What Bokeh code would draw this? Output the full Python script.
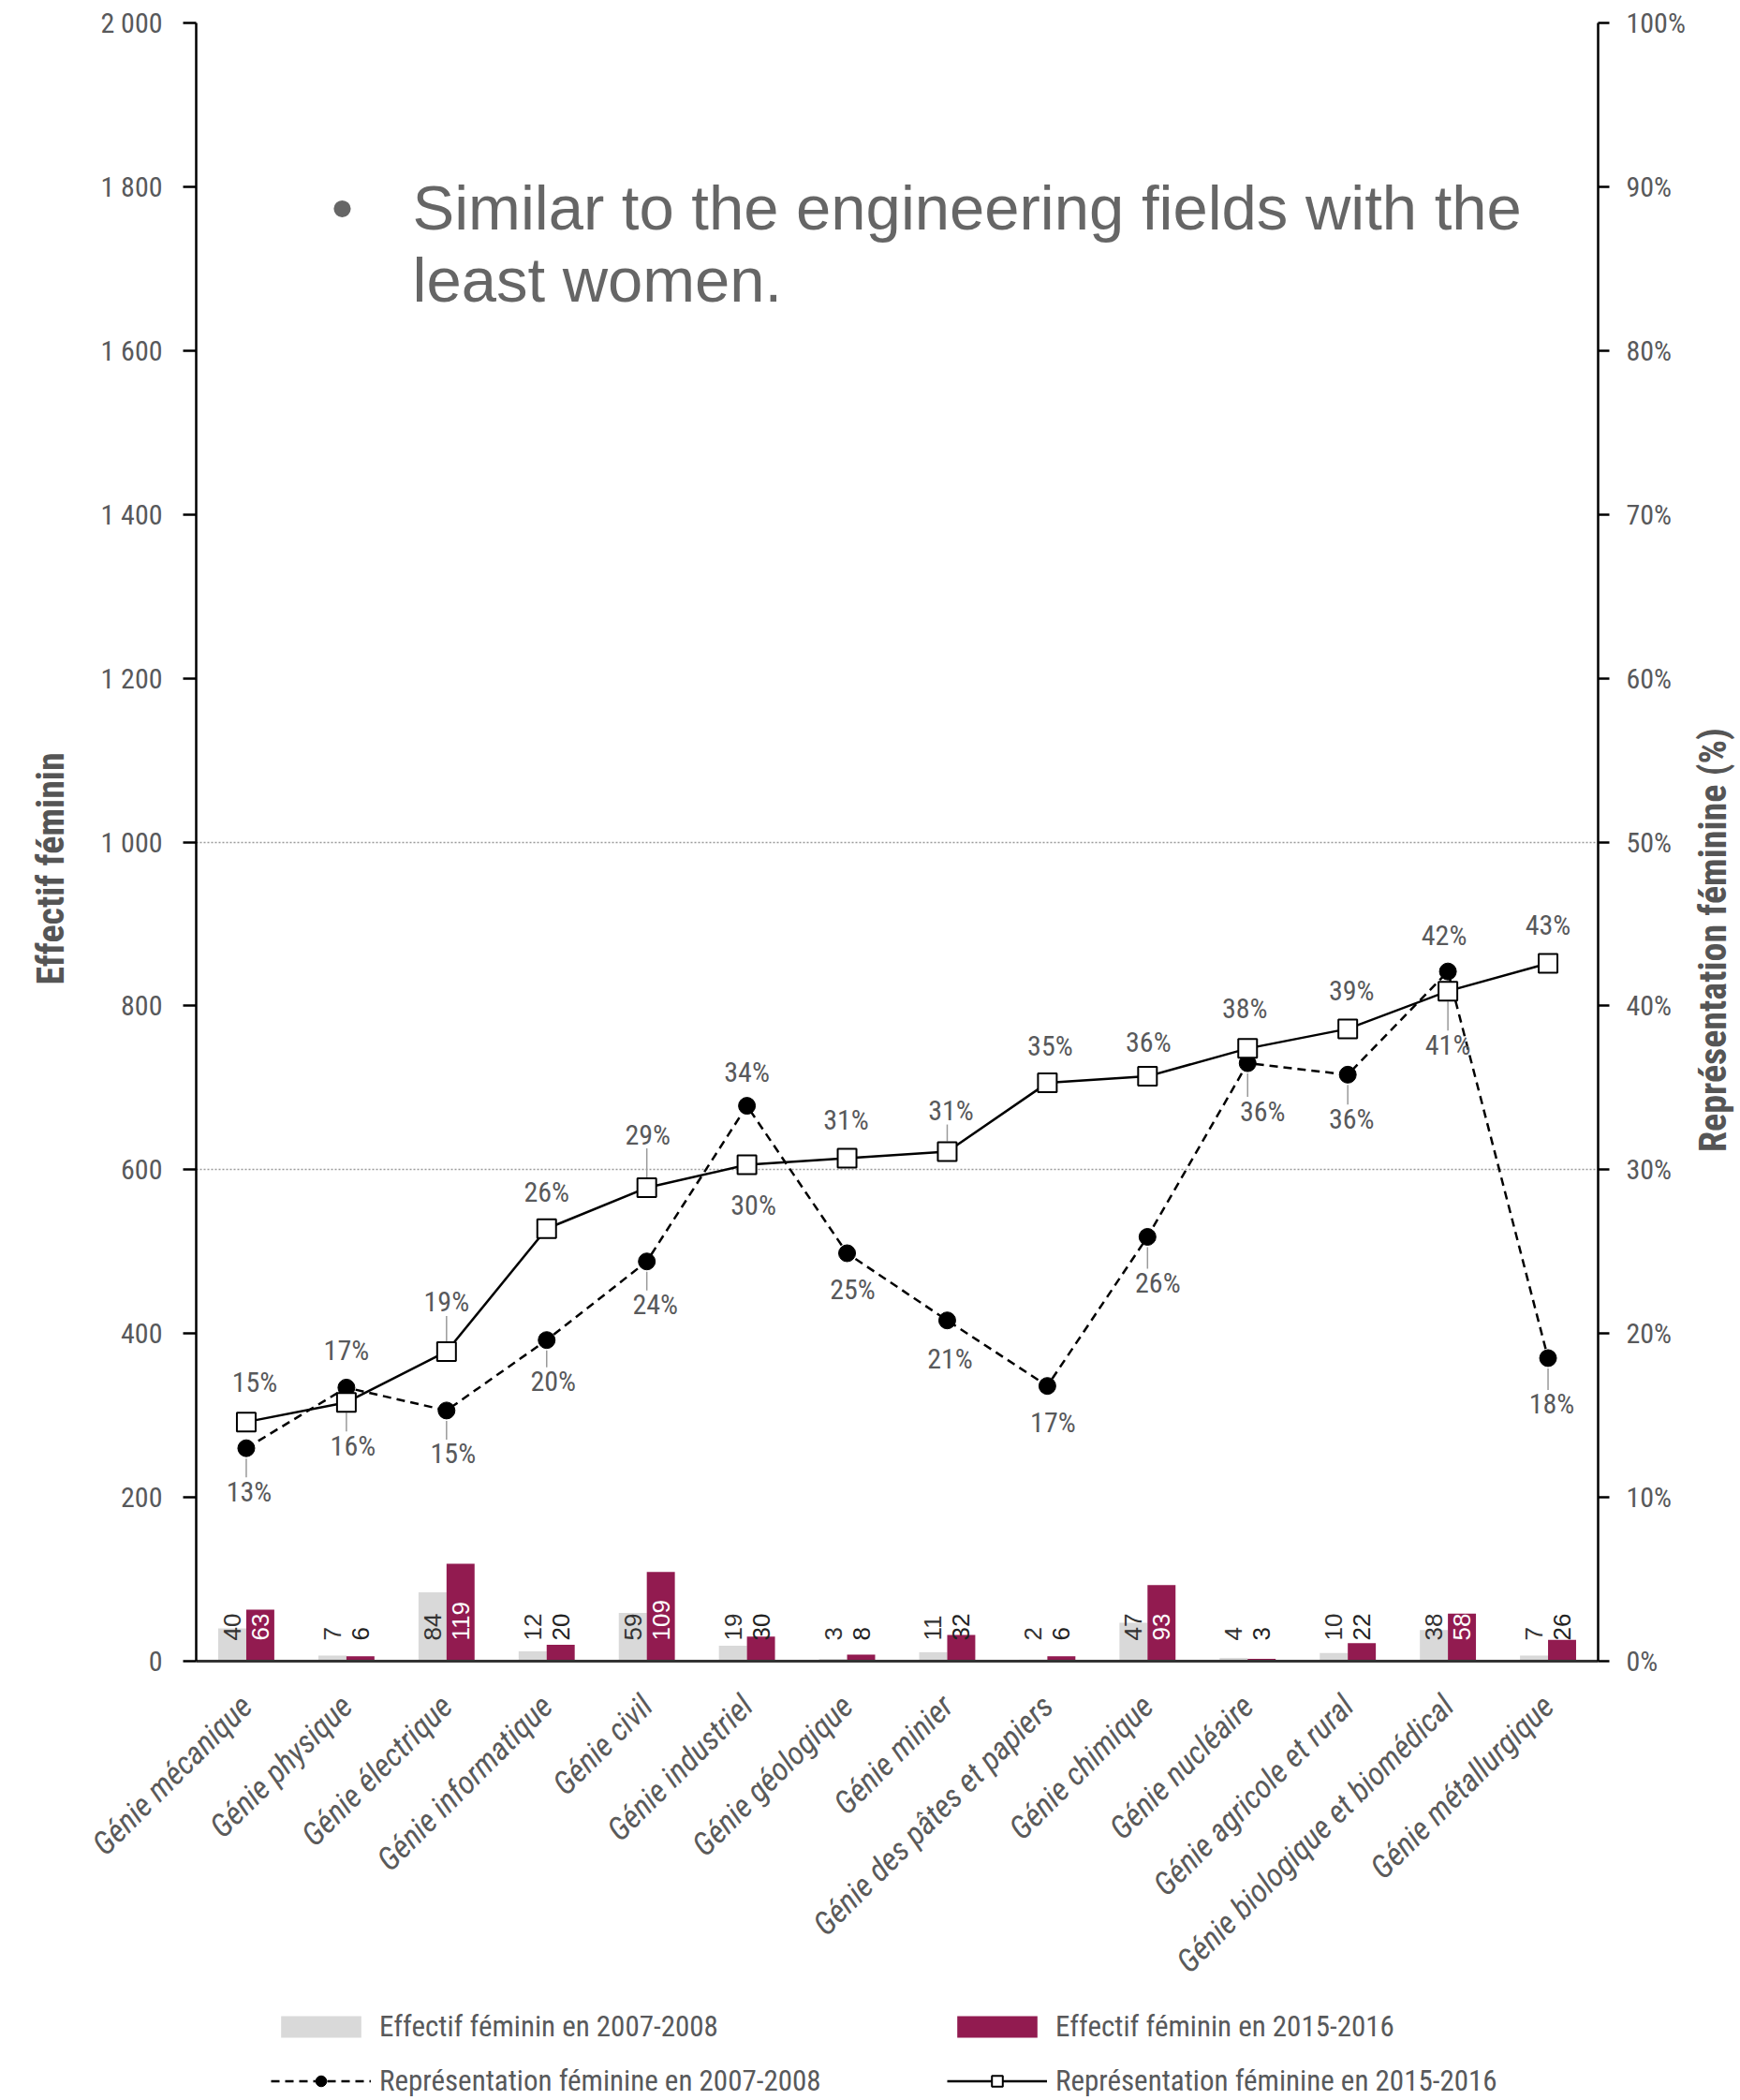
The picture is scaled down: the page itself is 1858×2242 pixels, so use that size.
import math
from bokeh.plotting import figure
from bokeh.layouts import column, row
from bokeh.models import (FactorRange, Range1d, LinearAxis, FixedTicker, CustomJSTickFormatter,
                          ColumnDataSource, Legend, LegendItem, Label)
from bokeh.transform import dodge
from bokeh.core.properties import value
from bokeh.embed import file_html
from bokeh.resources import INLINE

# ---------------- data ----------------
categories = ["Génie mécanique", "Génie physique", "Génie électrique", "Génie informatique",
              "Génie civil", "Génie industriel", "Génie géologique", "Génie minier",
              "Génie des pâtes et papiers", "Génie chimique", "Génie nucléaire",
              "Génie agricole et rural", "Génie biologique et biomédical", "Génie métallurgique"]
eff_2007 = [40, 7, 84, 12, 59, 19, 3, 11, 2, 47, 4, 10, 38, 7]
eff_2015 = [63, 6, 119, 20, 109, 30, 8, 32, 6, 93, 3, 22, 58, 26]
rep_2007 = [13.0, 16.7, 15.3, 19.6, 24.4, 33.9, 24.9, 20.8, 16.8, 25.9, 36.5, 35.8, 42.1, 18.5]
rep_2015 = [14.6, 15.8, 18.9, 26.4, 28.9, 30.3, 30.7, 31.1, 35.3, 35.7, 37.4, 38.6, 40.9, 42.6]
rep_2007_labels = ["13%", "17%", "15%", "20%", "24%", "34%", "25%", "21%", "17%", "26%", "36%", "36%", "42%", "18%"]
rep_2015_labels = ["15%", "16%", "19%", "26%", "29%", "30%", "31%", "31%", "35%", "36%", "38%", "39%", "41%", "43%"]
left_ticks = list(range(0, 2001, 200))
right_ticks = list(range(0, 101, 10))
grid_values = [600, 1000]
bullet_lines = ["Similar to the engineering fields with the", "least women."]
left_title = "Effectif féminin"
right_title = "Représentation féminine (%)"
legend_labels = ["Effectif féminin en 2007-2008", "Représentation féminine en 2007-2008",
                 "Effectif féminin en 2015-2016", "Représentation féminine en 2015-2016"]

# ---------------- styles ----------------
COND = "'Roboto Condensed', 'DejaVu Sans Condensed', Roboto, sans-serif"
SANS = "'Liberation Sans', Arial, sans-serif"
TXT = "#58595b"
GRAY = "#d9d9d9"
PURPLE = "#921b50"

# label offsets (screen px) relative to the markers, and which labels get a leader line
dx07 = [3, 0, 7, 7, 9, 0, 6, 3, 6, 11, 16, 4, -4, 4]
dy07 = [46, -40, 46, 44, 46, -36, 39, 41, 39, 49, 51, 47, -39, 49]
dx15 = [9, 7, 0, 0, 1, 7, -1, 4, 3, 1, -3, 4, 0, 0]
dy15 = [-43, 46, -53, -39, -57, 43, -41, -44, -40, -37, -43, -41, 57, -41]
lead07 = [1, 0, 1, 1, 1, 0, 0, 0, 0, 1, 1, 1, 0, 1]
lead15 = [0, 1, 1, 0, 1, 0, 0, 1, 0, 0, 0, 0, 1, 0]

PX_PER_PCT = 1749 / 100.0  # frame height / pct range (style helper for leader lines)

def leaders(vals, dys, flags):
    y0, y1 = [], []
    for v, d, f in zip(vals, dys, flags):
        s = 1 if d > 0 else -1
        if f:
            y0.append(v - s * 11 / PX_PER_PCT)
            y1.append(v - (d - s * 15) / PX_PER_PCT)
        else:
            y0.append(float("nan"))
            y1.append(float("nan"))
    return y0, y1

ly07_0, ly07_1 = leaders(rep_2007, dy07, lead07)
ly15_0, ly15_1 = leaders(rep_2015, dy15, lead15)

src = ColumnDataSource(dict(
    cat=categories, e07=eff_2007, e15=eff_2015, r07=rep_2007, r15=rep_2015,
    l07=rep_2007_labels, l15=rep_2015_labels,
    t07=[str(v) for v in eff_2007], t15=[str(v) for v in eff_2015],
    c15=["white" if v > 40 else "#222222" for v in eff_2015],
    zero=[0] * len(categories),
    dx07=dx07, dy07=dy07, dx15=dx15, dy15=dy15,
    a07=ly07_0, b07=ly07_1, a15=ly15_0, b15=ly15_1,
))

W_TOTAL, H_TOTAL = 1858, 2242
W_LEFT, W_RIGHT = 84, 54
W_MAIN, H_MAIN = W_TOTAL - W_LEFT - W_RIGHT, 2136
FRAME_BOTTOM = 1773  # page y of the plot frame bottom

p = figure(width=W_MAIN, height=H_MAIN, x_range=FactorRange(factors=categories, range_padding=0),
           y_range=Range1d(0, 2000), output_backend="svg", toolbar_location=None,
           min_border_left=209 - W_LEFT, min_border_right=98, min_border_top=24,
           min_border_bottom=H_MAIN - FRAME_BOTTOM)
p.outline_line_color = None
p.extra_y_ranges = {"pct": Range1d(0, 100)}

# grid
p.xgrid.grid_line_color = None
p.ygrid.ticker = FixedTicker(ticks=grid_values)
p.ygrid.grid_line_color = "#9a9a9a"
p.ygrid.grid_line_dash = "2 2"
p.ygrid.grid_line_width = 1.5

def style_y(ax, size):
    ax.major_label_text_font = COND
    ax.major_label_text_font_size = size
    ax.major_label_text_color = TXT
    ax.major_tick_in = 0
    ax.minor_tick_line_color = None
    ax.major_tick_line_width = 2.5
    ax.axis_line_width = 2.5
    ax.axis_line_color = "black"
    ax.major_tick_line_color = "black"

# left axis
ly = p.yaxis[0]
ly.ticker = FixedTicker(ticks=left_ticks)
ly.formatter = CustomJSTickFormatter(code="""
  if (tick >= 1000) { return Math.floor(tick/1000) + ' ' + String(tick % 1000).padStart(3, '0'); }
  return String(tick);""")
style_y(ly, "30px")
ly.major_tick_out = 14
ly.major_label_standoff = 22

# right axis
ry = LinearAxis(y_range_name="pct", ticker=FixedTicker(ticks=right_ticks),
                formatter=CustomJSTickFormatter(code="return tick + '%';"))
style_y(ry, "30px")
ry.major_tick_out = 12
ry.major_label_standoff = 18
p.add_layout(ry, "right")

# x axis
xa = p.xaxis[0]
xa.major_label_orientation = math.pi / 4
xa.major_label_text_font = COND
xa.major_label_text_font_style = "italic"
xa.major_label_text_font_size = "34px"
xa.major_label_text_color = "#5a5a5a"
xa.major_label_standoff = 36
xa.major_tick_line_color = None
xa.minor_tick_line_color = None
xa.axis_line_color = "#333333"
xa.axis_line_width = 3

# bars
BW = 0.28
BAR07 = dict(fill_color=GRAY, line_color=None)
BAR15 = dict(fill_color=PURPLE, line_color=None)
p.vbar(x=dodge("cat", -BW / 2, range=p.x_range), top="e07", width=BW, source=src, **BAR07)
p.vbar(x=dodge("cat", BW / 2, range=p.x_range), top="e15", width=BW, source=src, **BAR15)

# bar value labels
p.text(x=dodge("cat", -BW / 2, range=p.x_range), y="zero", text="t07", source=src,
       angle=math.pi / 2, text_align="left", text_baseline="middle", y_offset=-22,
       text_font=value(SANS), text_font_size="26px", text_color="#333333")
p.text(x=dodge("cat", BW / 2, range=p.x_range), y="zero", text="t15", source=src,
       angle=math.pi / 2, text_align="left", text_baseline="middle", y_offset=-22,
       text_font=value(SANS), text_font_size="26px", text_color="c15")

# leader lines for the percent labels
p.segment(x0="cat", x1="cat", y0="a07", y1="b07", source=src, y_range_name="pct",
          line_color="#9a9a9a", line_width=1.5)
p.segment(x0="cat", x1="cat", y0="a15", y1="b15", source=src, y_range_name="pct",
          line_color="#9a9a9a", line_width=1.5)

# lines + markers
LINE07 = dict(line_color="black", line_width=2.5, line_dash="9 6")
LINE15 = dict(line_color="black", line_width=2.5)
MK07 = dict(marker="circle", size=18, fill_color="black", line_color="black")
MK15 = dict(marker="square", size=20, fill_color="white", line_color="black", line_width=2)
p.line(x="cat", y="r07", source=src, y_range_name="pct", **LINE07)
p.line(x="cat", y="r15", source=src, y_range_name="pct", **LINE15)
p.scatter(x="cat", y="r07", source=src, y_range_name="pct", **MK07)
p.scatter(x="cat", y="r15", source=src, y_range_name="pct", **MK15)

# percent labels
p.text(x="cat", y="r07", text="l07", source=src, y_range_name="pct", x_offset="dx07",
       y_offset="dy07", text_align="center", text_baseline="middle",
       text_font=value(COND), text_font_size="30px", text_color=TXT)
p.text(x="cat", y="r15", text="l15", source=src, y_range_name="pct", x_offset="dx15",
       y_offset="dy15", text_align="center", text_baseline="middle",
       text_font=value(COND), text_font_size="30px", text_color=TXT)

# bullet text
p.add_layout(Label(x=156, y=1552, x_units="screen", y_units="screen", text="•",
                   text_align="center", text_baseline="alphabetic", text_font=SANS,
                   text_font_size="67px", text_color="#666666"))
for i, line in enumerate(bullet_lines):
    p.add_layout(Label(x=231, y=1552 - 77 * i, x_units="screen", y_units="screen", text=line,
                       text_align="left", text_baseline="alphabetic", text_font=SANS,
                       text_font_size="67px", text_color="#666666"))

# ---- side panels ----
def blank(width, height, x_range, y_range):
    f = figure(width=width, height=height, x_range=x_range, y_range=y_range,
               output_backend="svg", toolbar_location=None, min_border=0,
               x_axis_location=None, y_axis_location=None)
    f.outline_line_color = None
    f.grid.visible = False
    return f

TITLE = dict(angle=math.pi / 2, text_align="center", text_baseline="middle", text_font=COND,
             text_font_style="bold", text_font_size="40px", text_color="#555555",
             x_units="screen", y_units="screen")

# axis titles (panel frames are aligned with the main frame)
lfig_t = blank(W_LEFT, H_MAIN, Range1d(0, 1), Range1d(0, 1))
lfig_t.add_layout(Label(x=54, y=FRAME_BOTTOM - 927, text=left_title, **TITLE))
rfig = blank(W_RIGHT, H_MAIN, Range1d(0, 1), Range1d(0, 1))
rfig.add_layout(Label(x=25, y=FRAME_BOTTOM - 1003, text=right_title, **TITLE))

# legend panel: key glyphs share the data source, drawn far outside this panel's visible range
lfig = blank(W_TOTAL, H_TOTAL - H_MAIN, FactorRange(factors=categories), Range1d(5000, 5001))
k_bar07 = lfig.vbar(x="cat", top="e07", width=BW, source=src, **BAR07)
k_bar15 = lfig.vbar(x="cat", top="e15", width=BW, source=src, **BAR15)
k_l07 = lfig.line(x="cat", y="r07", source=src, **LINE07)
k_m07 = lfig.scatter(x="cat", y="r07", source=src, **MK07)
k_l15 = lfig.line(x="cat", y="r15", source=src, **LINE15)
k_m15 = lfig.scatter(x="cat", y="r15", source=src, **MK15)

def mk_legend(items, loc):
    lg = Legend(items=items, location=loc, orientation="vertical")
    lg.border_line_color = None
    lg.background_fill_alpha = 0
    lg.padding = 0
    lg.margin = 0
    lg.spacing = 21
    lg.glyph_width = 107
    lg.glyph_height = 29
    lg.label_standoff = 9
    lg.label_text_font = COND
    lg.label_text_font_size = "31px"
    lg.label_text_color = TXT
    return lg

lfig.add_layout(mk_legend([LegendItem(label=legend_labels[0], renderers=[k_bar07], index=0),
                           LegendItem(label=legend_labels[1], renderers=[k_l07, k_m07], index=0)], (289, 2)))
lfig.add_layout(mk_legend([LegendItem(label=legend_labels[2], renderers=[k_bar15], index=0),
                           LegendItem(label=legend_labels[3], renderers=[k_l15, k_m15], index=0)], (1011, 2)))

layout = column(row(lfig_t, p, rfig), lfig)
open("out.html", "w").write(file_html(layout, INLINE))
